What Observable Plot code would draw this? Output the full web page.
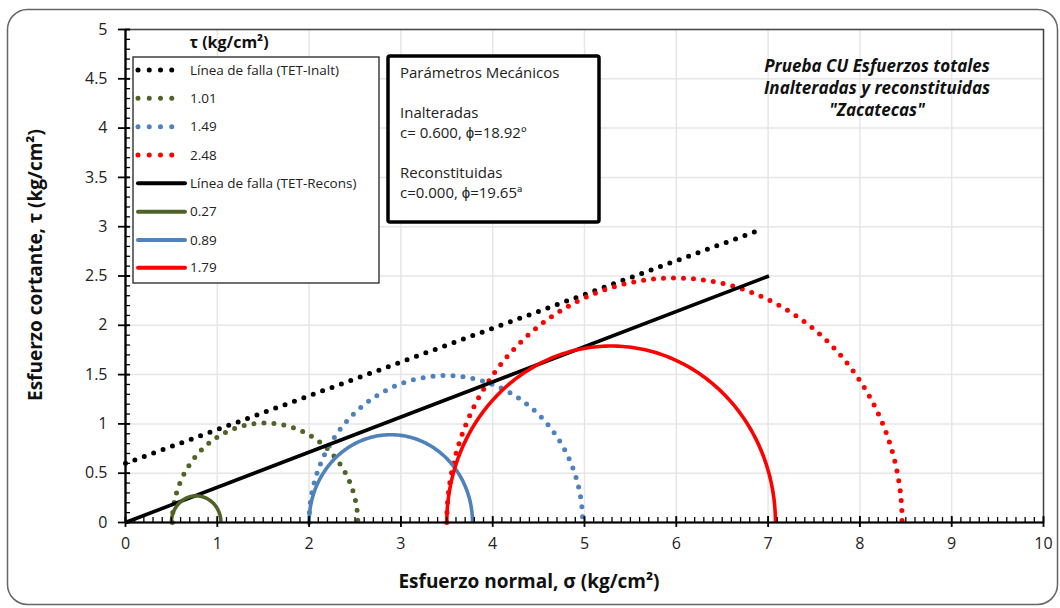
<!DOCTYPE html>
<html><head><meta charset="utf-8">
<script src="https://cdn.jsdelivr.net/npm/d3@7"></script>
<script src="https://cdn.jsdelivr.net/npm/@observablehq/plot@0.6"></script>
<style>body{margin:0;background:#fff} svg{display:block}</style>
</head><body><div id="chart"></div>
<script>
// ---- data ----
const xTicks = [0,1,2,3,4,5,6,7,8,9,10];
const yTicks = [0,0.5,1,1.5,2,2.5,3,3.5,4,4.5,5];
const xMinor = d3.range(0, 101).map(i => i / 10);
const yMinor = d3.range(0, 51).map(i => i / 10);
const seriesNames = ["Línea de falla (TET-Inalt)","1.01","1.49","2.48","Línea de falla (TET-Recons)","0.27","0.89","1.79"];
const seriesColors = ["#000000","#4f6228","#4f81bd","#ff0000","#000000","#4f6228","#4f81bd","#ff0000"];
const seriesDotted = [true,true,true,true,false,false,false,false];
// failure envelopes: start and end points
const lineNames = ["Línea de falla (TET-Inalt)","Línea de falla (TET-Recons)"];
const lineSigmaStart = [0, 0];
const lineTauStart = [0.60, 0.00];
const lineSigmaEnd = [6.92, 7.01];
const lineTauEnd = [2.97, 2.50];
// Mohr circles: sigma3 / sigma1
const circleNames = ["1.01","1.49","2.48","0.27","0.89","1.79"];
const circleSigma3 = [0.51, 2.00, 3.50, 0.50, 2.00, 3.50];
const circleSigma1 = [2.53, 4.98, 8.46, 1.04, 3.78, 7.08];

// ---- build tables ----
const lineData = lineNames.map((n, i) => [
  {name: n, x: lineSigmaStart[i], y: lineTauStart[i]},
  {name: n, x: lineSigmaEnd[i], y: lineTauEnd[i]}
]);
const circleData = circleNames.map((n, i) => {
  const c = (circleSigma3[i] + circleSigma1[i]) / 2, r = (circleSigma1[i] - circleSigma3[i]) / 2;
  return d3.range(0, 181).map(a => ({name: n, x: c - r * Math.cos(a * Math.PI / 180), y: r * Math.sin(a * Math.PI / 180)}));
});
const byName = {};
lineNames.forEach((n, i) => byName[n] = lineData[i]);
circleNames.forEach((n, i) => byName[n] = circleData[i]);

const font = "'Open Sans', sans-serif";
const seriesMarks = seriesNames.map((n, i) => Plot.line(byName[n], {
  x: "x", y: "y", stroke: seriesColors[i],
  strokeWidth: seriesDotted[i] ? 5 : 3.6,
  strokeDasharray: seriesDotted[i] ? "0 10" : null,
  strokeLinecap: seriesDotted[i] ? "round" : "butt"
}));

// tick lengths in data units (≈5–7 px)
const tkY = 0.05, tkYo = 0.05, tkX = 0.055, tkXo = 0.076;
const plot = Plot.plot({
  width: 1060, height: 608,
  marginLeft: 125, marginRight: 17, marginTop: 29, marginBottom: 86,
  style: {fontFamily: font, fontSize: "16px", color: "#222", background: "#fff"},
  x: {domain: [0, 10]},
  y: {domain: [0, 5]},
  marks: [
    Plot.ruleX(xTicks, {stroke: "#e6e6e6", strokeWidth: 1.5}),
    Plot.ruleY(yTicks, {stroke: "#e6e6e6", strokeWidth: 1.5}),
    Plot.frame({stroke: "#444", strokeWidth: 1.5}),
    ...seriesMarks,
    Plot.ruleY([0], {stroke: "#000", strokeWidth: 2.2}),
    Plot.ruleX([0], {stroke: "#000", strokeWidth: 2.2}),
    Plot.ruleX(xMinor, {x: d => d, y1: d => 0, y2: d => tkY, stroke: "#000", strokeWidth: 1.3}),
    Plot.ruleY(yMinor, {y: d => d, x1: d => 0, x2: d => tkX, stroke: "#000", strokeWidth: 1.3}),
    Plot.ruleX(xTicks, {x: d => d, y1: d => -tkYo, y2: d => tkY * 1.2, stroke: "#000", strokeWidth: 1.8}),
    Plot.ruleY(yTicks, {y: d => d, x1: d => -tkXo, x2: d => tkX, stroke: "#000", strokeWidth: 1.8}),
    Plot.axisX({ticks: xTicks, tickSize: 0, tickPadding: 15, label: null, fontSize: 16, tickFormat: d => String(d)}),
    Plot.axisY({ticks: yTicks, tickSize: 0, tickPadding: 18, label: null, fontSize: 16, tickFormat: d => String(d)})
  ]
});
document.getElementById("chart").append(plot);

const svg = d3.select(plot);

// outer border
svg.append("rect").attr("x", 7.5).attr("y", 9.5).attr("width", 1050).attr("height", 595)
  .attr("rx", 20).attr("fill", "none").attr("stroke", "#666").attr("stroke-width", 1.5);

// axis titles
svg.append("text").attr("x", 529).attr("y", 588).attr("text-anchor", "middle")
  .attr("font-family", font).attr("font-weight", "bold").attr("font-size", 19).attr("fill", "#111")
  .text("Esfuerzo normal, σ (kg/cm²)");
svg.append("text").attr("transform", "translate(42,265) rotate(-90)").attr("text-anchor", "middle")
  .attr("font-family", font).attr("font-weight", "bold").attr("font-size", 19).attr("fill", "#111")
  .text("Esfuerzo cortante, τ (kg/cm²)");

// legend
const lg = svg.append("g");
lg.append("text").attr("x", 229).attr("y", 42).attr("dy", "0.35em").attr("text-anchor", "middle")
  .attr("font-family", font).attr("font-weight", "bold").attr("font-size", 16).attr("fill", "#111")
  .text("τ (kg/cm²)");
lg.append("rect").attr("x", 133).attr("y", 57).attr("width", 246).attr("height", 226)
  .attr("fill", "#fff").attr("stroke", "#222").attr("stroke-width", 1.3);
const rowY = [70, 98.3, 126.7, 155, 183.3, 211.7, 240, 267.7];
seriesNames.forEach((n, i) => {
  lg.append("line").attr("x1", 138).attr("x2", seriesDotted[i] ? 183 : 185)
    .attr("y1", rowY[i]).attr("y2", rowY[i])
    .attr("stroke", seriesColors[i]).attr("stroke-width", seriesDotted[i] ? 5 : 4)
    .attr("stroke-dasharray", seriesDotted[i] ? "0 11.25" : null)
    .attr("stroke-linecap", "round");
  lg.append("text").attr("x", 190).attr("y", rowY[i]).attr("dy", "0.35em").attr("text-anchor", "start")
    .attr("font-family", font).attr("font-size", 13.5).attr("fill", "#222").text(n);
});

// parameters box
const pb = svg.append("g").attr("font-family", font).attr("font-size", 15).attr("fill", "#222").attr("text-anchor", "start");
pb.append("rect").attr("x", 388).attr("y", 56).attr("width", 211).attr("height", 166)
  .attr("rx", 2).attr("fill", "#fff").attr("stroke", "#000").attr("stroke-width", 3.5);
const pLines = [["Parámetros Mecánicos", 73], ["Inalteradas", 113], ["c= 0.600, ϕ=18.92º", 133], ["Reconstituidas", 173], ["c=0.000, ϕ=19.65ª", 193]];
pLines.forEach(([t, y]) => pb.append("text").attr("x", 400).attr("y", y).attr("dy", "0.35em").text(t));

// title
const tl = ["Prueba CU Esfuerzos totales", "Inalteradas y reconstituidas", "\"Zacatecas\""];
const tY = [66, 88, 110];
tl.forEach((t, i) => svg.append("text").attr("x", 877).attr("y", tY[i]).attr("dy", "0.35em")
  .attr("text-anchor", "middle").attr("font-family", font).attr("font-weight", "bold")
  .attr("font-style", "italic").attr("font-size", 17).attr("fill", "#111").text(t));
</script></body></html>
